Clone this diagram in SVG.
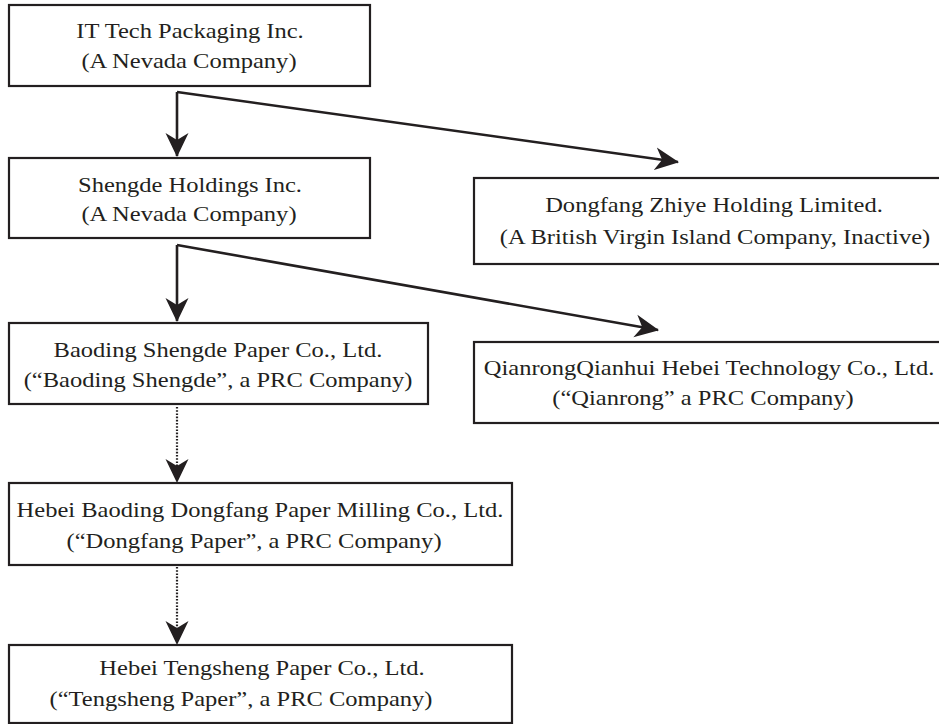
<svg xmlns="http://www.w3.org/2000/svg" width="939" height="724" viewBox="0 0 939 724">
<style>
.box{fill:#fff;stroke:#231f20;stroke-width:2.2}
.t{font-family:'Liberation Serif','Times New Roman',serif;font-size:22px;fill:#231f20;text-anchor:middle}
.c{fill:none;stroke:#231f20;stroke-width:2.6}
.d{fill:none;stroke:#231f20;stroke-width:2.2;stroke-dasharray:1.6 1.6}
</style>
<defs>
<marker id="ah" viewBox="0 0 24 24" refX="23" refY="12" markerWidth="24" markerHeight="24" markerUnits="userSpaceOnUse" orient="auto">
<path d="M0,0.5 L24,12 L0,23.5 L7,12 Z" fill="#231f20"/>
</marker>
</defs>
<rect width="939" height="724" fill="#fff"/>
<g id="connectors">
<path class="c" d="M177,92 V156" marker-end="url(#ah)"/>
<path class="c" d="M177,92 L678,162" marker-end="url(#ah)"/>
<path class="c" d="M177,245 V321" marker-end="url(#ah)"/>
<path class="c" d="M177,245 L658,330" marker-end="url(#ah)"/>
<path class="d" d="M177,407 V466"/>
<path d="M177,466 V482" stroke="none" fill="none" marker-end="url(#ah)"/>
<path class="d" d="M177,567 V628"/>
<path d="M177,628 V644" stroke="none" fill="none" marker-end="url(#ah)"/>
</g>
<g id="n1"><rect class="box" x="9" y="5" width="361" height="81"/>
<text class="t" transform="translate(190,38) scale(1.115,1)">IT Tech Packaging Inc.</text><text class="t" transform="translate(189,68) scale(1.115,1)">(A Nevada Company)</text></g>
<g id="n2"><rect class="box" x="9" y="158" width="361" height="80"/>
<text class="t" transform="translate(190,192) scale(1.115,1)">Shengde Holdings Inc.</text><text class="t" transform="translate(189,221) scale(1.115,1)">(A Nevada Company)</text></g>
<g id="n3"><rect class="box" x="474" y="178" width="520" height="86"/>
<text class="t" transform="translate(714,212) scale(1.115,1)">Dongfang Zhiye Holding Limited.</text><text class="t" transform="translate(715,244) scale(1.115,1)">(A British Virgin Island Company, Inactive)</text></g>
<g id="n4"><rect class="box" x="9" y="323" width="419" height="81"/>
<text class="t" transform="translate(218,357) scale(1.115,1)">Baoding Shengde Paper Co., Ltd.</text><text class="t" transform="translate(218,387) scale(1.115,1)">(“Baoding Shengde”, a PRC Company)</text></g>
<g id="n5"><rect class="box" x="474" y="342" width="520" height="81"/>
<text class="t" transform="translate(709,375) scale(1.115,1)">QianrongQianhui Hebei Technology Co., Ltd.</text><text class="t" transform="translate(703,405) scale(1.115,1)">(“Qianrong” a PRC Company)</text></g>
<g id="n6"><rect class="box" x="9" y="483" width="503" height="82"/>
<text class="t" transform="translate(260,517) scale(1.115,1)">Hebei Baoding Dongfang Paper Milling Co., Ltd.</text><text class="t" transform="translate(254,548) scale(1.115,1)">(“Dongfang Paper”, a PRC Company)</text></g>
<g id="n7"><rect class="box" x="9" y="645" width="503" height="78"/>
<text class="t" transform="translate(262,675) scale(1.115,1)">Hebei Tengsheng Paper Co., Ltd.</text><text class="t" transform="translate(241,706) scale(1.115,1)">(“Tengsheng Paper”, a PRC Company)</text></g>
</svg>
